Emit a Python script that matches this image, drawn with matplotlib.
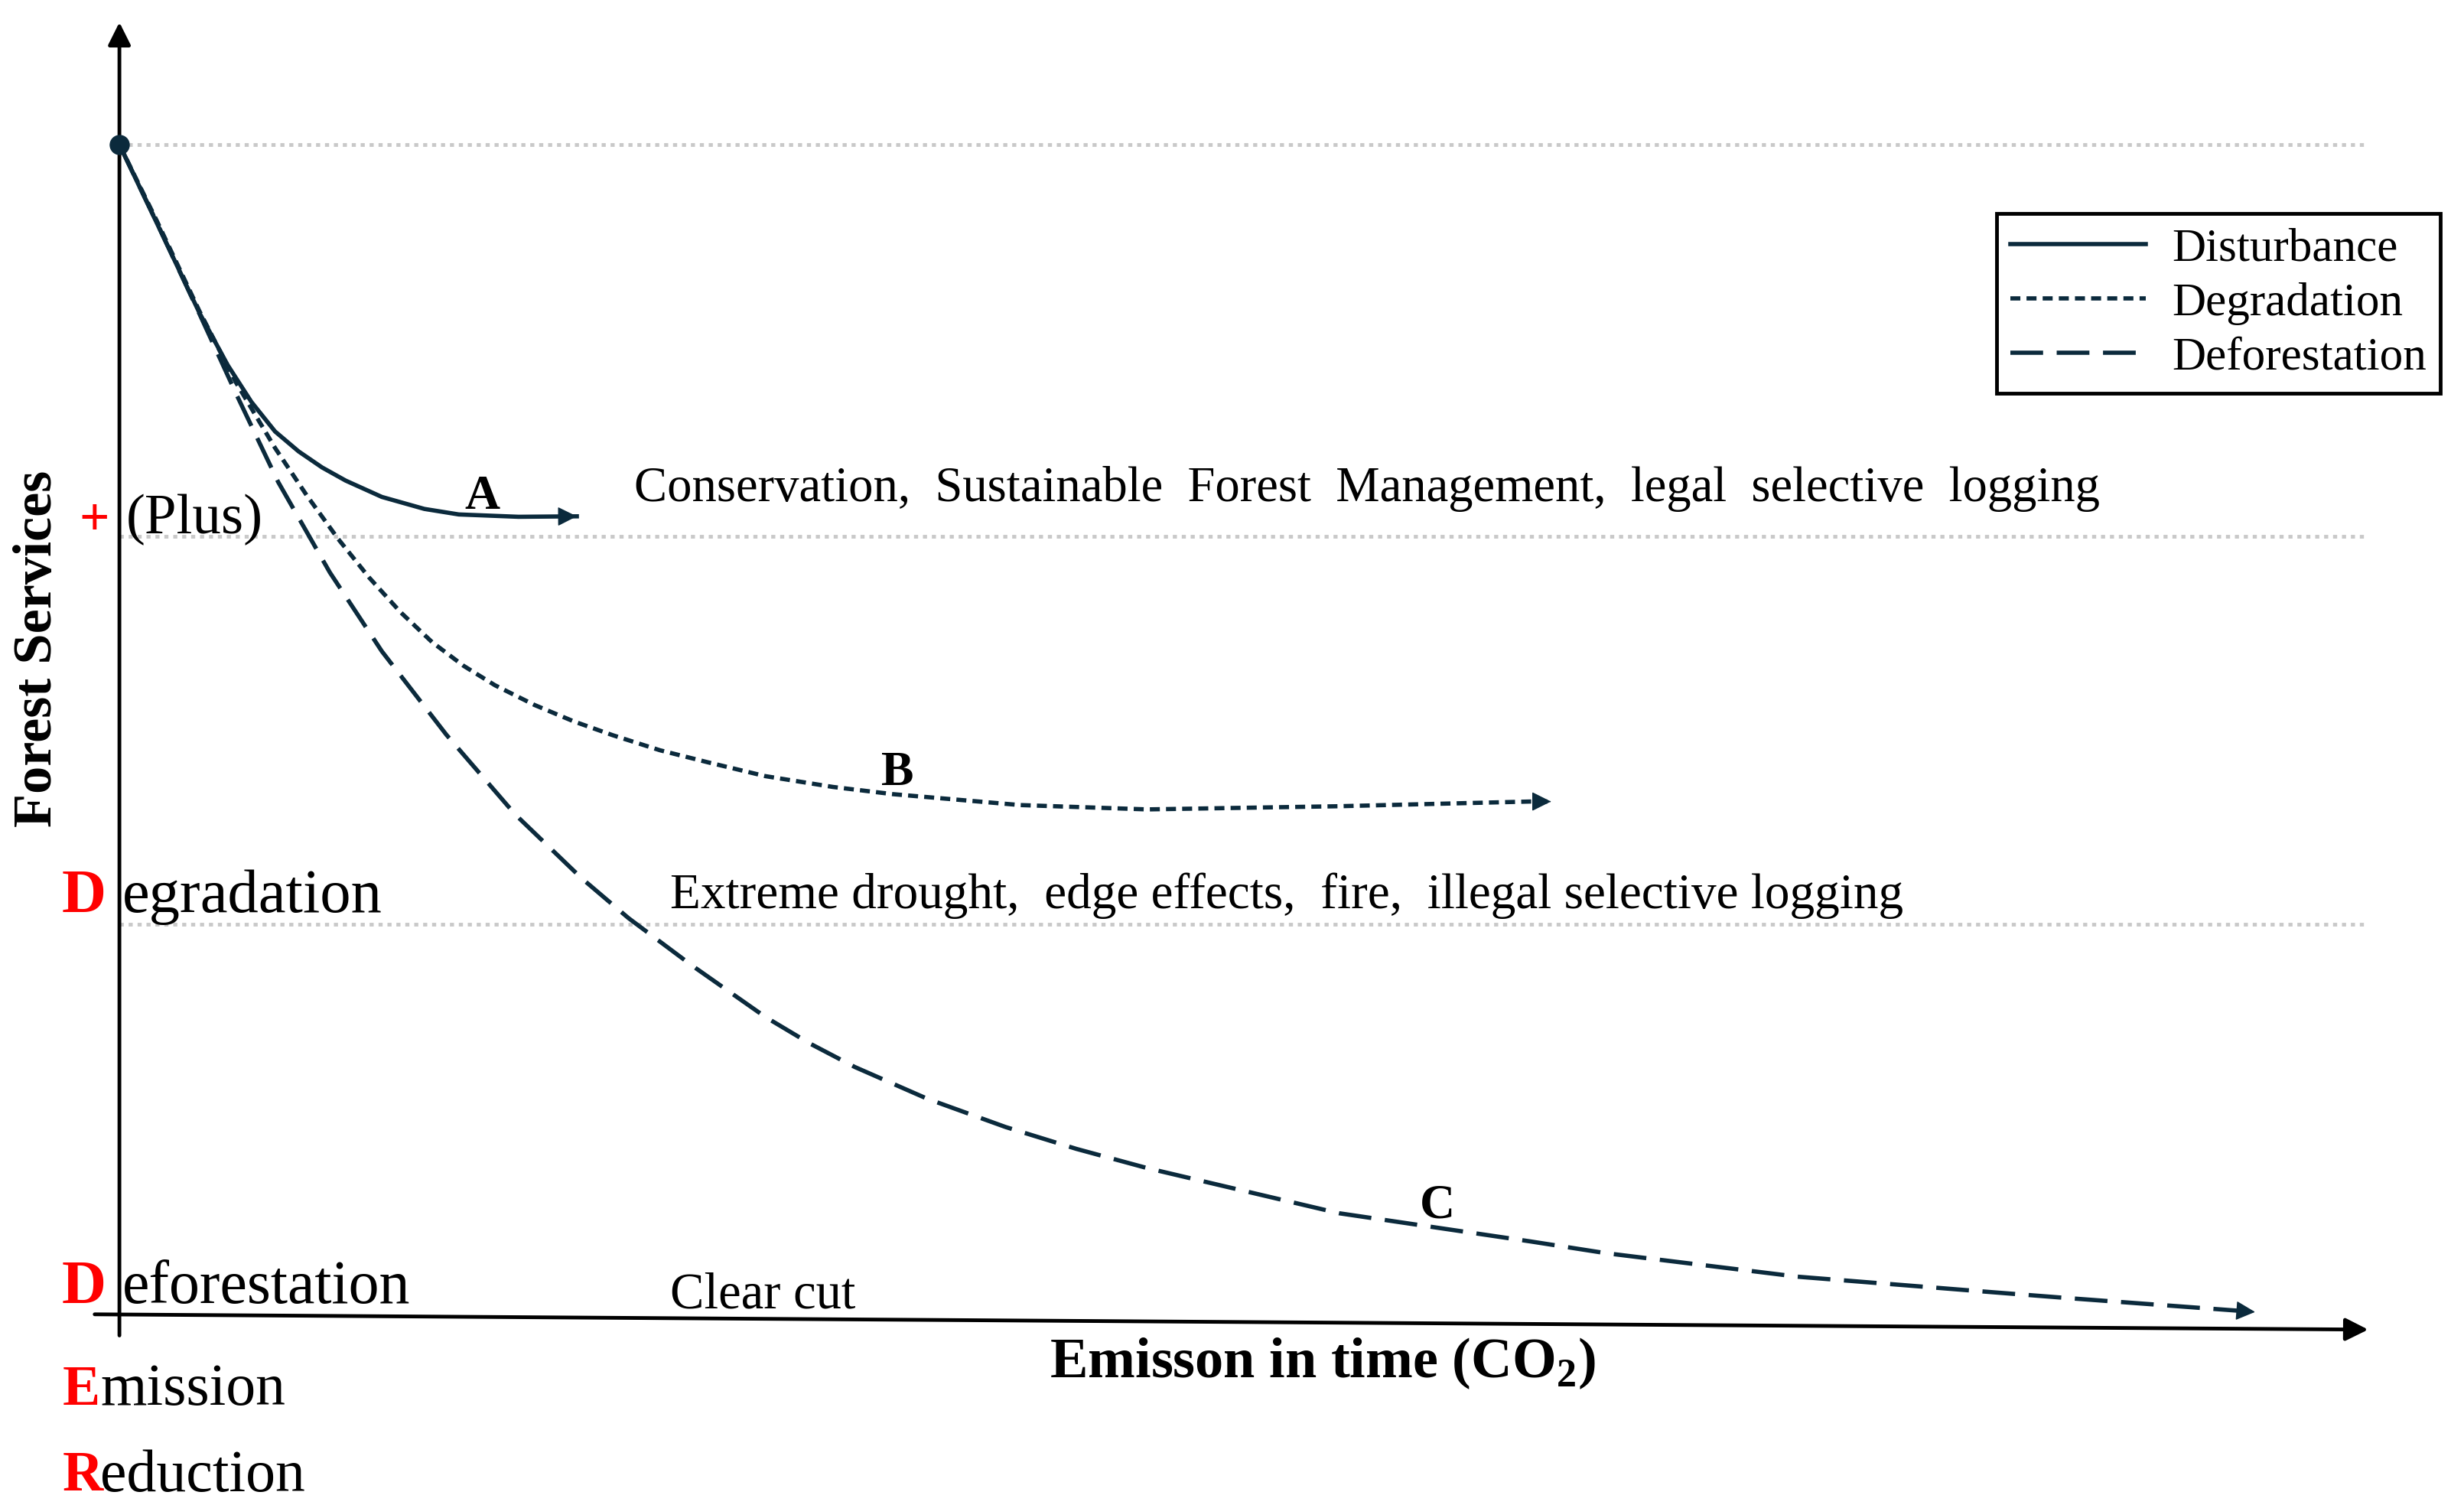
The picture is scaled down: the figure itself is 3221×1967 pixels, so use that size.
import numpy as np
import matplotlib.pyplot as plt

plt.rcParams['font.family'] = ['Liberation Serif', 'DejaVu Serif']
plt.rcParams['mathtext.fontset'] = 'custom'
plt.rcParams['mathtext.rm'] = 'Liberation Serif'
plt.rcParams['mathtext.bf'] = 'Liberation Serif:bold'

# curves (x: emission in time, y: forest services, 0-100)
a_x = [0, 1.68, 3.56, 4.82, 5.87, 6.92, 7.97, 9.01, 10.06, 11.67, 13.56, 15.09, 17.75, 20.34]
a_y = [100, 93.26, 85.68, 81.23, 78.11, 75.60, 73.90, 72.54, 71.42, 70.03, 69.01, 68.54,
       68.34, 68.38]

b_x = [0, 1.68, 3.56, 5.17, 6.92, 8.32, 9.71, 11.11, 12.51, 13.91, 15.30, 16.70, 18.45,
       20.20, 21.94, 24.04, 26.14, 28.72, 31.73, 34.38, 40.04, 45.70, 54.23, 62.75, 63.66]
b_y = [100, 93.45, 85.83, 79.81, 74.20, 70.19, 66.50, 63.16, 60.21, 57.67, 55.67, 54.01,
       52.34, 50.94, 49.76, 48.48, 47.47, 46.28, 45.36, 44.75, 43.82, 43.45, 43.72, 44.12,
       44.12]

c_x = [0, 1.68, 3.56, 5.24, 7.06, 9.36, 11.67, 14.54, 17.61, 20.55, 22.64, 25.44,
       28.72, 30.68, 32.70, 35.92, 39.41, 42.56, 45.70, 54.23, 62.75, 66.11, 74.63, 83.16,
       86.51, 94.97]
c_y = [100, 93.3, 85.6, 78.6, 71.3, 63.6, 56.9, 49.8, 43.0, 37.6, 34.2, 30.2,
       25.8, 23.56, 21.54, 18.84, 16.43, 14.57, 12.94, 9.1, 6.7, 5.7, 3.7, 2.4,
       1.9, 0.7]

levels = [100, 66.7, 33.7]
legend_labels = ["Disturbance", "Degradation", "Deforestation"]

col = '#0b2a3c'
red = '#ff0000'

fig = plt.figure(figsize=(32.21, 19.67), dpi=100)
ax = fig.add_axes([0, 0, 1, 1])
ax.set_xlim(-5.31, 104.26)
ax.set_ylim(-15.72, 112.3)
ax.axis('off')

# reference levels
ax.hlines(levels, 0, 100, colors='#c9c9c9', linestyles=(0, (1.1, 1.3)), lw=3.5, zorder=1)

# axes with arrows
ax.annotate('', xy=(0, 110.4), xytext=(0, -1.3),
            arrowprops=dict(arrowstyle='-|>', color='black', lw=3.5, mutation_scale=45,
                            shrinkA=0, shrinkB=0))
ax.annotate('', xy=(100, -0.8), xytext=(-1.1, 0.5),
            arrowprops=dict(arrowstyle='-|>', color='black', lw=3.5, mutation_scale=45,
                            shrinkA=0, shrinkB=0))

la, = ax.plot(a_x, a_y, color=col, lw=4, ls='-', label=legend_labels[0], zorder=3,
              solid_joinstyle='round')
lb, = ax.plot(b_x, b_y, color=col, lw=4, ls=(0, (2.35, 1.45)), label=legend_labels[1], zorder=3)
lc, = ax.plot(c_x, c_y, color=col, lw=4, ls=(0, (7.7, 3.2)), label=legend_labels[2], zorder=3)

for xs, ys in [(a_x, a_y), (b_x, b_y), (c_x, c_y)]:
    tip = np.array([xs[-1], ys[-1]])
    prev = np.array([xs[-2], ys[-2]])
    back = tip - 0.05 * (tip - prev)
    ax.annotate('', xy=tip, xytext=back,
                arrowprops=dict(arrowstyle='-|>', color=col, lw=1, mutation_scale=40,
                                shrinkA=0, shrinkB=0), zorder=4)

ax.plot(0, 100, 'o', ms=18, color=col, zorder=5)

# curve letters
ax.text(16.14, 70.0, 'A', fontsize=46, fontweight='bold', ha='center', va='center')
ax.text(34.6, 46.5, 'B', fontsize=46, fontweight='bold', ha='center', va='center')
ax.text(58.6, 9.7, 'C', fontsize=46, fontweight='bold', ha='center', va='center')

# descriptions
ax.text(22.9, 70.7, 'Conservation,  Sustainable  Forest  Management,  legal  selective  logging',
        fontsize=46.5, ha='left', va='center')
ax.text(24.5, 36.1, 'Extreme drought,  edge effects,  fire,  illegal selective logging',
        fontsize=47, ha='left', va='center')
ax.text(24.5, 2.1, 'Clear cut', fontsize=48, ha='left', va='center')

# left labels (REDD+)
ax.text(-1.12, 67.9, '+', fontsize=50, fontweight='bold', color=red, ha='center', va='center')
ax.text(0.28, 68.1, '(Plus)', fontsize=54, ha='left', va='center')
ax.text(-0.6, 36.0, 'D', fontsize=58, fontweight='bold', color=red, ha='right', va='center')
ax.text(0.14, 36.0, 'egradation', fontsize=58, ha='left', va='center')
ax.text(-0.6, 2.7, 'D', fontsize=58, fontweight='bold', color=red, ha='right', va='center')
ax.text(0.14, 2.7, 'eforestation', fontsize=57.5, ha='left', va='center')
ax.text(-2.52, -6.0, 'E', fontsize=53, fontweight='bold', color=red, ha='left', va='center')
ax.text(-0.85, -6.0, 'mission', fontsize=56, ha='left', va='center')
ax.text(-2.52, -13.3, 'R', fontsize=53, fontweight='bold', color=red, ha='left', va='center')
ax.text(-0.85, -13.3, 'eduction', fontsize=56, ha='left', va='center')

# axis titles
ax.text(-3.63, 57.1, 'Forest Services', fontsize=52, fontweight='bold', rotation=90,
        ha='center', va='center')
ax.text(53.5, -3.7, r'Emisson in time (CO$_\mathbf{2}$)', fontsize=53.5, fontweight='bold',
        ha='center', va='center')

leg = ax.legend(handles=[la, lb, lc], loc='upper right', bbox_to_anchor=(0.9904, 0.858),
                borderaxespad=0, fontsize=44, handlelength=2.9, handletextpad=0.55,
                labelspacing=0.25, borderpad=0.3, fancybox=False, framealpha=1,
                edgecolor='black')
leg.get_frame().set_linewidth(3.5)

fig.savefig('out.png', dpi=100)
